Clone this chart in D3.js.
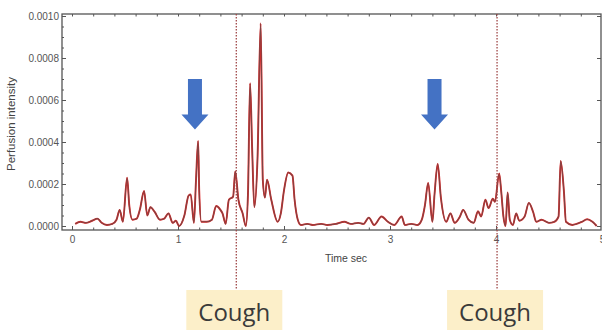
<!DOCTYPE html>
<html>
<head>
<meta charset="utf-8">
<script src="https://cdn.jsdelivr.net/npm/d3@7"></script>
<style>
  body { margin: 0; background: #fff; }
  svg { display: block; font-family: "Liberation Sans", Arial, sans-serif; }
</style>
</head>
<body>
<script>
// time (sec) and perfusion intensity (in units of 1e-4)
const timeSec = [0.03, 0.08, 0.13, 0.19, 0.24, 0.28, 0.33, 0.38, 0.42, 0.45, 0.48, 0.52, 0.54, 0.57, 0.61, 0.64, 0.68, 0.71, 0.74, 0.78,
  0.83, 0.87, 0.91, 0.95, 0.98, 1.01, 1.06, 1.10, 1.12, 1.15, 1.17, 1.19, 1.20, 1.22, 1.27, 1.32, 1.36, 1.40, 1.42, 1.45,
  1.48, 1.52, 1.54, 1.57, 1.61, 1.64, 1.66, 1.68, 1.70, 1.72, 1.75, 1.78, 1.80, 1.82, 1.84, 1.88, 1.94, 1.97, 2.00, 2.04,
  2.08, 2.10, 2.13, 2.16, 2.22, 2.27, 2.35, 2.41, 2.49, 2.57, 2.63, 2.70, 2.75, 2.80, 2.85, 2.92, 2.98, 3.04, 3.11, 3.14,
  3.20, 3.26, 3.30, 3.33, 3.36, 3.40, 3.42, 3.45, 3.48, 3.53, 3.57, 3.61, 3.66, 3.69, 3.74, 3.79, 3.83, 3.86, 3.90, 3.93,
  3.97, 3.99, 4.03, 4.05, 4.07, 4.09, 4.11, 4.13, 4.16, 4.19, 4.22, 4.27, 4.31, 4.35, 4.38, 4.43, 4.50, 4.55, 4.59, 4.61,
  4.64, 4.66, 4.72, 4.76, 4.81, 4.86, 4.91, 4.95];
const intensityE4 = [0.1, 0.2, 0.15, 0.25, 0.35, 0.15, 0.05, 0.1, 0.3, 0.77, 0.2, 2.3, 1.0, 0.3, 0.35, 0.77, 1.67, 0.5, 0.9, 0.67,
  0.3, 0.35, 0.6, 0.15, 0.25, 0.0, 0.5, 1.45, 1.5, 0.15, 2.2, 4.05, 1.7, 0.2, 0.2, 0.3, 0.95, 0.77, 0.6, 0.1,
  1.25, 1.4, 2.6, 1.25, 0.6, 0.0, 1.5, 6.8, 3.6, 0.9, 3.2, 9.65, 2.2, 1.35, 2.2, 1.25, 0.2, 0.6, 1.7, 2.55,
  2.4, 1.25, 0.3, 0.05, 0.1, 0.05, 0.1, 0.05, 0.1, 0.2, 0.1, 0.15, 0.1, 0.4, 0.05, 0.45, 0.2, 0.05, 0.45, 0.05,
  0.1, 0.05, 0.3, 1.0, 2.05, 0.2, 1.5, 2.95, 1.35, 0.2, 0.6, 0.15, 0.45, 0.77, 0.3, 0.15, 0.7, 0.45, 1.25, 0.85,
  1.3, 1.15, 2.5, 1.6, 0.45, 0.0, 1.6, 0.3, 0.05, 0.6, 0.25, 0.45, 1.1, 0.67, 0.2, 0.3, 0.15, 0.2, 0.45, 3.1,
  1.7, 0.2, 0.05, 0.1, 0.2, 0.32, 0.2, 0.0];

const xTicks = [0, 1, 2, 3, 4, 5];
const yTicks = [0, 0.0002, 0.0004, 0.0006, 0.0008, 0.0010];
const coughTimes = [1.55, 4.01];
const coughLabels = ["Cough", "Cough"];
const arrowTimes = [1.16, 3.42];
const arrowTip = 0.00046, arrowTop = 0.0007;

const W = 602, H = 330;
const frame = { left: 62, right: 601, top: 14, bottom: 230 };

const svg = d3.select("body").append("svg")
  .attr("width", W).attr("height", H);

const x = d3.scaleLinear().domain([0, 5]).range([72, 602]);
const y = d3.scaleLinear().domain([0, 0.001]).range([226, 16]);

const data = timeSec.map((t, i) => ({ t: t, v: intensityE4[i] * 1e-4 }));

// axes (ticks point inward)
function tidy(g) {
  g.select(".domain").remove();
  g.selectAll("line").attr("stroke", "#555");
  g.selectAll("text").attr("fill", "#555").style("font-size", "10px");
}
const minorX = d3.range(0, 5.01, 0.2);
const minorY = d3.range(0, 0.00101, 0.00005);

svg.append("g").attr("transform", `translate(0,${frame.bottom})`)
  .call(d3.axisBottom(x).tickValues(minorX).tickSize(-2.5).tickFormat(""))
  .call(tidy);
svg.append("g").attr("transform", `translate(0,${frame.bottom})`)
  .call(d3.axisBottom(x).tickValues(xTicks).tickSize(-4).tickPadding(6).tickFormat(d3.format("d")))
  .call(tidy);
svg.append("g").attr("transform", `translate(0,${frame.top})`)
  .call(d3.axisTop(x).tickValues(minorX).tickSize(-2.5).tickFormat(""))
  .call(tidy);
svg.append("g").attr("transform", `translate(${frame.left},0)`)
  .call(d3.axisLeft(y).tickValues(minorY).tickSize(-2).tickFormat(""))
  .call(tidy);
svg.append("g").attr("transform", `translate(${frame.left},0)`)
  .call(d3.axisLeft(y).tickValues(yTicks).tickSize(-4).tickPadding(3).tickFormat(d3.format(".4f")))
  .call(tidy);
svg.append("g").attr("transform", `translate(${frame.right},0)`)
  .call(d3.axisRight(y).tickValues(yTicks).tickSize(-4).tickFormat(""))
  .call(tidy);

svg.append("rect")
  .attr("x", frame.left).attr("y", frame.top)
  .attr("width", frame.right - frame.left).attr("height", frame.bottom - frame.top)
  .attr("fill", "none").attr("stroke", "#555").attr("stroke-width", 1.3);

// axis titles
svg.append("text")
  .attr("x", 346).attr("y", 262)
  .attr("text-anchor", "middle")
  .attr("fill", "#444").style("font-size", "10.5px")
  .text("Time sec");
svg.append("text")
  .attr("transform", "translate(15,124) rotate(-90)")
  .attr("text-anchor", "middle")
  .attr("fill", "#444").style("font-size", "11.5px")
  .text("Perfusion intensity");

// trace
const line = d3.line()
  .x(d => x(d.t))
  .y(d => y(d.v))
  .curve(d3.curveMonotoneX);
svg.append("path").datum(data)
  .attr("d", line)
  .attr("fill", "none").attr("stroke", "#e02828").attr("stroke-width", 1.9)
  .attr("stroke-linejoin", "round");
svg.append("path").datum(data)
  .attr("d", line)
  .attr("fill", "none").attr("stroke", "#7e4444").attr("stroke-width", 1.1)
  .attr("stroke-linejoin", "round");

// cough markers
const cough = svg.append("g").selectAll("g")
  .data(coughTimes)
  .join("g");
cough.append("line")
  .attr("x1", d => x(d)).attr("x2", d => x(d))
  .attr("y1", frame.top).attr("y2", 290)
  .attr("stroke", "#a04848").attr("stroke-width", 1.3)
  .attr("stroke-dasharray", "1.5,1.5");
cough.append("rect")
  .attr("x", d => x(d) - 50).attr("y", 290)
  .attr("width", 96).attr("height", 45)
  .attr("fill", "#fcefc9");
cough.append("text")
  .attr("x", d => x(d) - 2).attr("y", 321)
  .attr("text-anchor", "middle")
  .attr("fill", "#3a3a3a")
  .style("font-family", "'Open Sans', sans-serif")
  .style("font-size", "24px")
  .text((d, i) => coughLabels[i]);

// blue arrows
svg.append("g").selectAll("path")
  .data(arrowTimes)
  .join("path")
  .attr("fill", "#4472c4")
  .attr("d", d => {
    const cx = x(d), tip = y(arrowTip), top = y(arrowTop), head = tip - 15;
    return `M${cx - 7},${top}L${cx + 7},${top}L${cx + 7},${head}L${cx + 13.5},${head}` +
      `L${cx},${tip}L${cx - 13.5},${head}L${cx - 7},${head}Z`;
  });
</script>
</body>
</html>
